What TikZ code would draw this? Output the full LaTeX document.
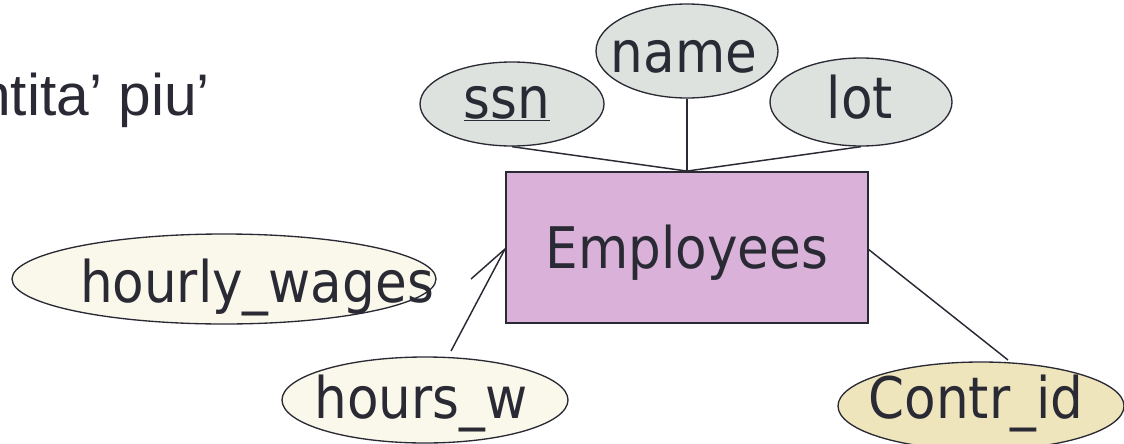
\documentclass[tikz,border=0pt]{standalone}
\usepackage{fontspec}
\usetikzlibrary{shapes.geometric}
\newfontfamily\erfont{DejaVu Sans Condensed}
\newfontfamily\slidefont{Liberation Sans}
\definecolor{ink}{HTML}{2A2A35}
\definecolor{entfill}{HTML}{D9B1D9}
\definecolor{keyfill}{HTML}{DEE2DF}
\definecolor{subfill}{HTML}{FAF8EB}
\definecolor{newfill}{HTML}{EFE5BD}
\tikzset{
  attr/.style={ellipse, draw=ink, line width=1pt, inner sep=0pt},
  lbl/.style={anchor=base, inner sep=0pt, text=ink,
    font=\erfont\fontsize{43}{50}\selectfont},
  entity/.style={rectangle, draw=ink, line width=1.4pt, fill=entfill, inner sep=0pt,
    font=\erfont\fontsize{43}{50}\selectfont, text=ink,
    text height=31.5pt, text depth=-2pt,
    minimum width=271.5pt, minimum height=113.25pt},
  link/.style={draw=ink, line width=1.1pt}
}
\begin{document}
\begin{tikzpicture}[x=0.75pt, y=-0.75pt]
  \useasboundingbox (0,0) rectangle (1124,443);

  % slide text running in from the left
  \node[anchor=base west, inner sep=0pt, text=ink,
        font=\slidefont\fontsize{44}{50}\selectfont] (slide) at (-22,115) {ntita’ piu’};

  % entity
  \node[entity] (emp) at (687,247.5) {Employees};

  % attribute ovals
  \node[attr, fill=keyfill, minimum width=138pt, minimum height=63pt] (ssn) at (512,104) {};
  \node[attr, fill=keyfill, minimum width=136.5pt, minimum height=70.5pt] (name) at (687,51) {};
  \node[attr, fill=keyfill, minimum width=136.5pt, minimum height=66pt] (lot) at (861,102) {};
  \node[attr, fill=subfill, minimum width=318pt, minimum height=67.5pt] (hw) at (224,279) {};
  \node[attr, fill=subfill, minimum width=214.5pt, minimum height=64.5pt] (hours) at (425,400) {};
  \node[attr, fill=newfill, minimum width=214.5pt, minimum height=66pt] (contr) at (981,406) {};

  % attribute names
  \node[lbl] (ssnlbl) at (507,118) {\underline{ssn}};
  \node[lbl] (namelbl) at (684,72) {name};
  \node[lbl] (lotlbl) at (860,118) {lot};
  \node[lbl] (hwlbl) at (257,302) {hourly\_wages};
  \node[lbl] (hourslbl) at (421,418) {hours\_w};
  \node[lbl] (contrlbl) at (976,418) {Contr\_id};

  % free ends of the connectors
  \coordinate (hwend) at (471,279);
  \coordinate (hoursend) at (451,351);
  \coordinate (contrend) at (1008,360);
  \coordinate (empleft) at (505,249);
  \coordinate (empright) at (868,249);

  % connectors
  \draw[link] (ssn.south) -- (emp.north);
  \draw[link] (name.south) -- (emp.north);
  \draw[link] (lot.south) -- (emp.north);
  \draw[link] (hwend) -- (empleft);
  \draw[link] (hoursend) -- (empleft);
  \draw[link] (empright) -- (contrend);
\end{tikzpicture}
\end{document}
